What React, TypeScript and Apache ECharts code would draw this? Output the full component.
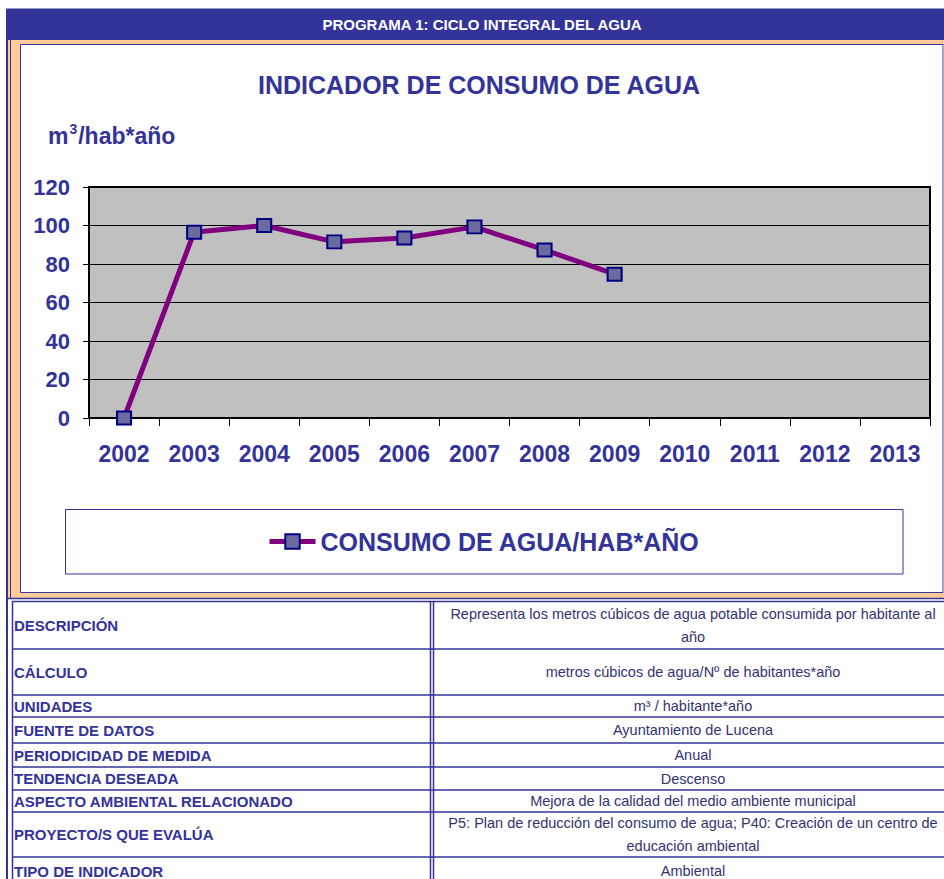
import React, { useEffect, useRef } from "react";
import * as echarts from "echarts";

// ---------- data ----------
const headerText = "PROGRAMA 1: CICLO INTEGRAL DEL AGUA";
const chartTitle = "INDICADOR DE CONSUMO DE AGUA";
const unitBase = "m";
const unitSup = "3";
const unitRest = "/hab*año";
const seriesName = "CONSUMO DE AGUA/HAB*AÑO";
const years = ["2002", "2003", "2004", "2005", "2006", "2007", "2008", "2009", "2010", "2011", "2012", "2013"];
const consumo = [0, 96.5, 100, 91.5, 93.5, 99.3, 87.3, 74.7];
const yMin = 0;
const yMax = 120;
const yStep = 20;

const tableLabels = [
  "DESCRIPCIÓN",
  "CÁLCULO",
  "UNIDADES",
  "FUENTE DE DATOS",
  "PERIODICIDAD DE MEDIDA",
  "TENDENCIA DESEADA",
  "ASPECTO AMBIENTAL RELACIONADO",
  "PROYECTO/S QUE EVALÚA",
  "TIPO DE INDICADOR",
];
const tableValues = [
  "Representa los metros cúbicos de agua potable consumida por habitante al\naño",
  "metros cúbicos de agua/Nº de habitantes*año",
  "m³ / habitante*año",
  "Ayuntamiento de Lucena",
  "Anual",
  "Descenso",
  "Mejora de la calidad del medio ambiente municipal",
  "P5: Plan de reducción del consumo de agua; P40: Creación de un centro de\neducación ambiental",
  "Ambiental",
];

// ---------- layout ----------
const W = 944;
const H = 879;
const NAVY = "#333399";
const PEACH = "#FFCC99";
const FONT = "'Liberation Sans', Arial, Helvetica, sans-serif";
const rowEdges = [601, 649, 695, 717, 743, 767, 790, 812, 857, 885];

function buildGraphic() {
  const els: any[] = [];
  // top thin line + header bar
  els.push({ type: "rect", shape: { x: 6, y: 8, width: W - 6, height: 1 }, style: { fill: "#9999CC" } });
  els.push({ type: "rect", shape: { x: 6, y: 9, width: W - 6, height: 31 }, style: { fill: NAVY } });
  els.push({
    type: "text",
    x: 482,
    y: 24.5,
    style: { text: headerText, fill: "#fff", font: `bold 15px ${FONT}`, align: "center", verticalAlign: "middle" },
  });
  // peach frame around chart
  els.push({ type: "rect", shape: { x: 7, y: 40, width: W - 7, height: 558 }, style: { fill: PEACH } });
  // white inner chart frame
  els.push({
    type: "rect",
    shape: { x: 20.5, y: 44.5, width: 922.5, height: 548 },
    style: { fill: "#fff", stroke: NAVY, lineWidth: 1 },
  });
  els.push({ type: "line", shape: { x1: 943.5, y1: 44.5, x2: 943.5, y2: 592.5 }, style: { stroke: "#A8A8D8", lineWidth: 1 } });
  // legend box
  els.push({
    type: "rect",
    shape: { x: 65.5, y: 509.5, width: 837.5, height: 64.5 },
    style: { fill: "#fff", stroke: NAVY, lineWidth: 1 },
  });
  // left outer lines
  els.push({ type: "line", shape: { x1: 7, y1: 9, x2: 7, y2: H }, style: { stroke: NAVY, lineWidth: 2 } });
  els.push({ type: "line", shape: { x1: 10.5, y1: 40, x2: 10.5, y2: 598 }, style: { stroke: NAVY, lineWidth: 1 } });

  // table borders
  els.push({ type: "line", shape: { x1: 7, y1: 598.5, x2: W, y2: 598.5 }, style: { stroke: NAVY, lineWidth: 1.5 } });
  els.push({ type: "line", shape: { x1: 12, y1: 601.5, x2: W, y2: 601.5 }, style: { stroke: NAVY, lineWidth: 1.5 } });
  els.push({ type: "line", shape: { x1: 12.5, y1: 601, x2: 12.5, y2: H }, style: { stroke: NAVY, lineWidth: 1.5 } });
  els.push({ type: "line", shape: { x1: 430.5, y1: 601, x2: 430.5, y2: H }, style: { stroke: NAVY, lineWidth: 1.5 } });
  els.push({ type: "line", shape: { x1: 433.5, y1: 601, x2: 433.5, y2: H }, style: { stroke: NAVY, lineWidth: 1.5 } });
  for (let i = 1; i < rowEdges.length - 1; i++) {
    els.push({
      type: "line",
      shape: { x1: 12.5, y1: rowEdges[i], x2: W, y2: rowEdges[i] },
      style: { stroke: NAVY, lineWidth: 1.5 },
    });
  }
  tableLabels.forEach((lab, i) => {
    const cy = (rowEdges[i] + rowEdges[i + 1]) / 2;
    els.push({
      type: "text",
      x: 14,
      y: cy,
      style: { text: lab, fill: NAVY, font: `bold 15px ${FONT}`, align: "left", verticalAlign: "middle" },
    });
    els.push({
      type: "text",
      x: 693,
      y: cy,
      style: {
        text: tableValues[i],
        fill: "#333370",
        font: `14.5px ${FONT}`,
        align: "center",
        verticalAlign: "middle",
        lineHeight: 23,
      },
    });
  });
  return els;
}

export default function App() {
  const ref = useRef<HTMLDivElement>(null);
  useEffect(() => {
    if (!ref.current) return;
    const chart = echarts.init(ref.current, null, { renderer: "svg" });
    chart.setOption({
      animation: false,
      backgroundColor: "#fff",
      title: [
        {
          text: chartTitle,
          left: 258,
          top: 72,
          padding: 0,
          z: 6,
          textStyle: { fontFamily: FONT, fontSize: 25, fontWeight: "bold", color: NAVY },
        },
        {
          text: `{b|${unitBase}}{s|${unitSup}}{b|${unitRest}}`,
          left: 48,
          top: 122,
          padding: 0,
          z: 6,
          textStyle: {
            rich: {
              b: { fontFamily: FONT, fontSize: 23, fontWeight: "bold", color: NAVY, height: 28, verticalAlign: "bottom" },
              s: {
                fontFamily: FONT,
                fontSize: 14,
                fontWeight: "bold",
                color: NAVY,
                verticalAlign: "top",
                padding: [0, 1, 0, 1],
              },
            },
          },
        },
      ],
      legend: {
        data: [seriesName],
        left: 267,
        top: 529,
        padding: 0,
        z: 6,
        itemWidth: 46,
        itemHeight: 18,
        itemGap: 5,
        lineStyle: { width: 5, color: "#800080" },
        itemStyle: { borderWidth: 2, borderColor: "#000080", color: "#6B6BA0" },
        textStyle: { fontFamily: FONT, fontSize: 25, fontWeight: "bold", color: NAVY },
      },
      grid: {
        left: 89,
        right: W - 930,
        top: 187,
        bottom: H - 418,
        show: true,
        z: 2,
        backgroundColor: "#C0C0C0",
        borderColor: "#000",
        borderWidth: 2,
      },
      xAxis: {
        type: "category",
        data: years,
        boundaryGap: true,
        z: 3,
        axisLine: { lineStyle: { color: "#000", width: 2 } },
        axisTick: { show: true, length: 8, lineStyle: { color: "#000", width: 1 } },
        axisLabel: { fontFamily: FONT, fontSize: 23, fontWeight: "bold", color: NAVY, margin: 24, interval: 0 },
        splitLine: { show: false },
      },
      yAxis: {
        type: "value",
        min: yMin,
        max: yMax,
        interval: yStep,
        z: 3,
        axisLine: { show: true, lineStyle: { color: "#000", width: 1 } },
        axisTick: { show: true, length: 6, lineStyle: { color: "#000", width: 1 } },
        axisLabel: { fontFamily: FONT, fontSize: 22, fontWeight: "bold", color: NAVY, margin: 19 },
        splitLine: { show: true, lineStyle: { color: "#000", width: 1 } },
      },
      series: [
        {
          name: seriesName,
          type: "line",
          data: consumo,
          z: 4,
          symbol: "rect",
          symbolSize: [14, 13],
          lineStyle: { color: "#800080", width: 5 },
          itemStyle: { color: "#6B6BA0", borderColor: "#000080", borderWidth: 2 },
        },
      ],
      graphic: { elements: buildGraphic() },
    });
    return () => chart.dispose();
  }, []);
  return (
    <div
      ref={ref}
      style={{ position: "fixed", left: 0, top: 0, width: W, height: H, background: "#fff" }}
    />
  );
}
